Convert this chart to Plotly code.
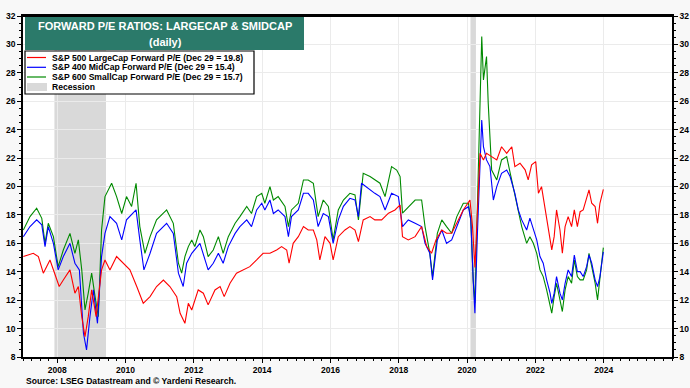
import plotly.graph_objects as go

# ---------------- data (decimal years, forward P/E) ----------------
RED_X = [2007.01, 2007.30, 2007.45, 2007.595, 2007.79, 2007.89, 2008.06, 2008.18, 2008.375, 2008.52,
         2008.62, 2008.72, 2008.815, 2008.91, 2009.01, 2009.14, 2009.30, 2009.40, 2009.545, 2009.74,
         2009.94, 2010.13, 2010.33, 2010.52, 2010.72, 2010.91, 2011.11, 2011.30, 2011.50, 2011.60,
         2011.74, 2011.84, 2011.94, 2012.13, 2012.28, 2012.42, 2012.62, 2012.77, 2012.89, 2013.06,
         2013.25, 2013.45, 2013.64, 2013.84, 2014.03, 2014.23, 2014.425, 2014.57, 2014.72, 2014.79,
         2014.91, 2015.06, 2015.21, 2015.35, 2015.50, 2015.60, 2015.69, 2015.84, 2015.99, 2016.08,
         2016.23, 2016.425, 2016.57, 2016.72, 2016.82, 2016.96, 2017.16, 2017.30, 2017.50, 2017.70,
         2017.89, 2018.04, 2018.11, 2018.28, 2018.48, 2018.67, 2018.82, 2018.96, 2019.09, 2019.26,
         2019.40, 2019.55, 2019.70, 2019.89, 2020.085, 2020.16, 2020.23, 2020.30, 2020.38, 2020.48,
         2020.57, 2020.72, 2020.87, 2021.01, 2021.16, 2021.31, 2021.40, 2021.55, 2021.70, 2021.79,
         2021.89, 2022.01, 2022.09, 2022.18, 2022.28, 2022.38, 2022.48, 2022.55, 2022.62, 2022.72,
         2022.79, 2022.87, 2022.96, 2023.06, 2023.14, 2023.23, 2023.31, 2023.40, 2023.50, 2023.57,
         2023.65, 2023.75, 2023.82, 2023.89, 2023.99]
RED_Y = [15.07, 15.3, 15.07, 13.9, 14.83, 14.13, 12.96, 13.42, 14.13, 12.49,
         12.96, 10.84, 9.44, 10.84, 12.72, 10.84, 14.13, 14.83, 14.13, 15.07,
         14.6, 14.13, 12.96, 11.78, 12.25, 12.96, 13.42, 12.96, 12.25, 11.08,
         10.37, 11.78, 11.31, 12.72, 12.49, 11.67, 12.72, 12.96, 12.25, 13.19,
         13.9, 14.13, 14.36, 14.83, 15.3, 15.3, 15.53, 15.77, 15.53, 14.6,
         16.0, 16.47, 17.18, 16.94, 16.94, 16.24, 14.83, 16.47, 16.0, 14.83,
         16.47, 16.94, 17.18, 16.94, 16.12, 17.65, 17.88, 17.65, 17.65, 18.12,
         18.35, 18.7, 16.47, 16.24, 16.47, 17.18, 15.77, 15.3, 16.24, 16.94,
         16.71, 16.71, 17.41, 18.35, 19.05, 17.18, 14.3, 18.58, 22.34, 21.87,
         22.34, 22.1, 21.87, 22.8, 22.34, 22.8, 21.4, 21.64, 21.17, 20.46,
         21.52, 21.75, 19.52, 19.99, 18.59, 16.94, 15.54, 16.47, 18.35, 16.94,
         15.3, 17.18, 17.88, 17.18, 18.35, 17.18, 18.23, 18.35, 19.29, 19.76,
         18.82, 18.59, 17.41, 18.82, 19.8]

BLUE_X = [2007.01, 2007.205, 2007.40, 2007.55, 2007.645, 2007.74, 2007.89, 2008.03, 2008.18, 2008.375,
          2008.52, 2008.65, 2008.77, 2008.86, 2008.96, 2009.06, 2009.18, 2009.30, 2009.40, 2009.545,
          2009.74, 2009.89, 2010.03, 2010.31, 2010.42, 2010.54, 2010.72, 2010.91, 2011.205, 2011.40,
          2011.55, 2011.69, 2011.79, 2011.84, 2011.94, 2012.18, 2012.42, 2012.57, 2012.72, 2012.86,
          2013.01, 2013.21, 2013.35, 2013.55, 2013.69, 2013.84, 2013.99, 2014.08, 2014.23, 2014.33,
          2014.47, 2014.67, 2014.77, 2014.86, 2015.06, 2015.21, 2015.35, 2015.50, 2015.64, 2015.79,
          2015.94, 2016.08, 2016.23, 2016.38, 2016.57, 2016.72, 2016.82, 2016.91, 2017.16, 2017.30,
          2017.45, 2017.60, 2017.79, 2017.99, 2018.11, 2018.28, 2018.48, 2018.67, 2018.77, 2018.91,
          2018.99, 2019.13, 2019.26, 2019.40, 2019.55, 2019.70, 2019.89, 2020.04, 2020.11, 2020.18,
          2020.23, 2020.30, 2020.38, 2020.43, 2020.48, 2020.57, 2020.67, 2020.77, 2020.87, 2021.01,
          2021.16, 2021.26, 2021.40, 2021.50, 2021.60, 2021.745, 2021.84, 2021.94, 2022.04, 2022.135,
          2022.23, 2022.33, 2022.43, 2022.48, 2022.55, 2022.62, 2022.72, 2022.79, 2022.87, 2022.96,
          2023.06, 2023.14, 2023.23, 2023.31, 2023.40, 2023.50, 2023.57, 2023.65, 2023.75, 2023.82,
          2023.89, 2023.99]
BLUE_Y = [16.47, 17.18, 17.65, 17.3, 15.77, 17.18, 16.0, 14.13, 15.07, 16.0,
          14.6, 14.13, 9.67, 8.5, 10.84, 12.72, 10.37, 15.07, 16.7, 17.88,
          17.41, 16.24, 17.65, 18.35, 16.24, 14.13, 15.3, 16.7, 17.41, 16.7,
          13.9, 12.96, 14.6, 14.83, 15.3, 16.0, 14.13, 14.6, 15.3, 14.6,
          15.77, 16.7, 17.18, 17.65, 17.18, 18.35, 18.82, 18.35, 19.05, 18.1,
          18.35, 17.88, 16.47, 17.88, 18.35, 19.52, 19.52, 19.05, 17.18, 18.1,
          17.88, 16.0, 17.65, 18.6, 19.17, 19.05, 17.88, 20.23, 19.76, 19.52,
          19.29, 18.35, 19.52, 19.29, 17.18, 17.65, 17.41, 17.18, 16.0, 15.3,
          13.42, 16.24, 16.94, 16.0, 16.24, 17.18, 18.35, 18.58, 17.65, 13.42,
          11.08, 16.47, 21.87, 24.68, 22.8, 21.87, 21.4, 19.05, 19.99, 20.93,
          21.16, 20.7, 19.52, 18.35, 17.65, 16.94, 17.77, 16.94, 16.24, 15.07,
          14.6, 13.43, 12.49, 11.78, 12.49, 13.66, 12.49, 12.02, 13.19, 14.13,
          13.66, 15.18, 14.01, 14.01, 13.66, 14.36, 15.18, 14.6, 13.43, 12.96,
          13.66, 15.4]

GREEN_X = [2007.01, 2007.205, 2007.40, 2007.55, 2007.645, 2007.74, 2007.89, 2008.03, 2008.18, 2008.375,
           2008.52, 2008.62, 2008.72, 2008.815, 2008.91, 2009.01, 2009.11, 2009.205, 2009.30, 2009.40,
           2009.595, 2009.74, 2009.89, 2010.03, 2010.18, 2010.31, 2010.42, 2010.57, 2010.72, 2010.91,
           2011.205, 2011.40, 2011.55, 2011.645, 2011.74, 2011.84, 2011.94, 2012.03, 2012.18, 2012.28,
           2012.42, 2012.57, 2012.72, 2012.86, 2013.01, 2013.21, 2013.35, 2013.55, 2013.69, 2013.84,
           2013.99, 2014.08, 2014.23, 2014.33, 2014.47, 2014.67, 2014.77, 2014.86, 2015.06, 2015.21,
           2015.35, 2015.50, 2015.64, 2015.79, 2015.94, 2016.08, 2016.23, 2016.38, 2016.57, 2016.72,
           2016.82, 2016.96, 2017.16, 2017.30, 2017.45, 2017.60, 2017.79, 2017.94, 2018.04, 2018.11,
           2018.28, 2018.48, 2018.67, 2018.77, 2018.91, 2018.99, 2019.13, 2019.26, 2019.40, 2019.55,
           2019.70, 2019.89, 2020.04, 2020.11, 2020.18, 2020.23, 2020.28, 2020.35, 2020.43, 2020.48,
           2020.53, 2020.57, 2020.62, 2020.67, 2020.72, 2020.87, 2021.01, 2021.16, 2021.26, 2021.40,
           2021.50, 2021.60, 2021.745, 2021.84, 2021.94, 2022.04, 2022.135, 2022.23, 2022.33, 2022.43,
           2022.48, 2022.55, 2022.62, 2022.72, 2022.79, 2022.87, 2022.96, 2023.06, 2023.14, 2023.23,
           2023.31, 2023.40, 2023.50, 2023.57, 2023.65, 2023.75, 2023.82, 2023.89, 2023.99]
GREEN_Y = [16.94, 17.88, 18.47, 17.76, 16.0, 17.41, 16.47, 14.36, 15.53, 16.7,
           15.3, 16.24, 14.13, 11.31, 12.5, 13.9, 12.25, 10.84, 16.94, 19.29,
           20.23, 19.29, 18.1, 19.29, 18.6, 20.23, 17.18, 15.3, 16.47, 17.65,
           18.35, 17.41, 14.6, 13.9, 15.07, 15.77, 16.24, 15.77, 16.94, 16.47,
           15.07, 15.53, 16.47, 15.3, 16.47, 17.41, 17.88, 18.6, 18.1, 19.29,
           19.52, 18.82, 19.99, 19.05, 19.29, 18.6, 17.18, 18.35, 18.82, 20.46,
           20.46, 20.23, 17.88, 19.05, 18.6, 16.24, 18.35, 19.05, 19.52, 19.4,
           17.65, 20.93, 20.7, 20.46, 20.23, 19.29, 21.4, 21.16, 20.7, 18.12,
           18.58, 19.05, 19.05, 17.18, 15.3, 13.66, 16.71, 17.65, 17.18, 16.71,
           17.88, 18.82, 18.82, 17.65, 13.42, 11.78, 16.47, 22.8, 30.55, 27.5,
           28.67, 29.14, 25.85, 23.51, 21.16, 20.46, 21.87, 22.1, 20.93, 19.29,
           18.12, 17.18, 16.0, 16.47, 16.0, 15.3, 14.13, 13.66, 12.72, 11.55,
           11.08, 12.25, 13.19, 12.02, 11.2, 12.72, 13.66, 13.19, 14.83, 13.66,
           13.43, 13.43, 14.13, 15.3, 14.36, 13.19, 12.02, 13.43, 15.7]

RECESSION_START = [2007.92, 2020.10]
RECESSION_END = [2009.43, 2020.26]

SERIES_NAMES = ["S&P 500 LargeCap Forward P/E (Dec 29 = 19.8)",
                "S&P 400 MidCap Forward P/E (Dec 29 = 15.4)",
                "S&P 600 SmallCap Forward P/E (Dec 29 = 15.7)",
                "Recession"]
TITLE_LINES = ["FORWARD P/E RATIOS: LARGECAP & SMIDCAP", "(daily)"]
SOURCE = "Source: LSEG Datastream and © Yardeni Research."
X_TICKS = [2008, 2010, 2012, 2014, 2016, 2018, 2020, 2022, 2024]
Y_TICKS = [8, 10, 12, 14, 16, 18, 20, 22, 24, 26, 28, 30, 32]

# ---------------- styling ----------------
W, H = 690, 388
L, R, T, B = 23, 18, 16, 31
PW, PH = W - L - R, H - T - B
RED, BLUE, GREEN = "#ff0000", "#0000ff", "#008a00"
SHADE = "#d9d9d9"
TEAL = "#2b7a6a"
FONT = "Liberation Sans, Arial, sans-serif"


def px(xp):
    return (xp - L) / PW


def py(yp):
    return (H - B - yp) / PH


fig = go.Figure()
fig.add_trace(go.Scatter(x=GREEN_X, y=GREEN_Y, mode="lines", line=dict(color=GREEN, width=1.1),
                         name=SERIES_NAMES[2], showlegend=False, hoverinfo="skip"))
fig.add_trace(go.Scatter(x=BLUE_X, y=BLUE_Y, mode="lines", line=dict(color=BLUE, width=1.1),
                         name=SERIES_NAMES[1], showlegend=False, hoverinfo="skip"))
fig.add_trace(go.Scatter(x=RED_X, y=RED_Y, mode="lines", line=dict(color=RED, width=1.1),
                         name=SERIES_NAMES[0], showlegend=False, hoverinfo="skip", yaxis="y2"))

shapes = []
for s, e in zip(RECESSION_START, RECESSION_END):
    shapes.append(dict(type="rect", xref="x", yref="paper", x0=s, x1=e, y0=0, y1=1,
                       fillcolor=SHADE, line=dict(width=0), layer="below"))

# title box
shapes.append(dict(type="rect", xref="paper", yref="paper", x0=px(25), x1=px(304), y0=py(50), y1=py(17),
                   fillcolor=TEAL, line=dict(width=0), layer="above"))
# legend box
shapes.append(dict(type="rect", xref="paper", yref="paper", x0=px(25), x1=px(254), y0=py(94), y1=py(51),
                   fillcolor="white", line=dict(color="black", width=1.2), layer="above"))
legend_y = [57.5, 67.3, 77.0]
for yy, c in zip(legend_y, [RED, BLUE, GREEN]):
    shapes.append(dict(type="line", xref="paper", yref="paper", x0=px(27), x1=px(46), y0=py(yy), y1=py(yy),
                       line=dict(color=c, width=1.2), layer="above"))
shapes.append(dict(type="rect", xref="paper", yref="paper", x0=px(27), x1=px(47), y0=py(91), y1=py(83),
                   fillcolor=SHADE, line=dict(width=0), layer="above"))
# thicker top frame line
shapes.append(dict(type="line", xref="paper", yref="paper", x0=0, x1=1, y0=1, y1=1,
                   line=dict(color="black", width=2), layer="above"))

annotations = []
annotations.append(dict(text="<b>%s</b>" % TITLE_LINES[0], xref="paper", yref="paper", x=px(165), y=py(26),
                        xanchor="center", yanchor="middle", showarrow=False,
                        font=dict(family=FONT, size=11, color="white")))
annotations.append(dict(text="<b>%s</b>" % TITLE_LINES[1], xref="paper", yref="paper", x=px(165), y=py(42),
                        xanchor="center", yanchor="middle", showarrow=False,
                        font=dict(family=FONT, size=11, color="white")))
for yy, name in zip(legend_y + [87.0], SERIES_NAMES):
    annotations.append(dict(text="<b>%s</b>" % name, xref="paper", yref="paper", x=px(50), y=py(yy),
                            xanchor="left", yanchor="middle", showarrow=False,
                            font=dict(family=FONT, size=8.6, color="black")))
annotations.append(dict(text="<b>%s</b>" % SOURCE, xref="paper", yref="paper", x=px(24), y=py(381),
                        xanchor="left", yanchor="middle", showarrow=False,
                        font=dict(family=FONT, size=8.6, color="black")))

tickfont = dict(family=FONT, size=8.5, color="black", weight="bold")
yaxis_common = dict(range=[8, 32], tickvals=Y_TICKS, ticks="outside", ticklen=4, tickwidth=1,
                    tickcolor="black", showline=True, linecolor="black", linewidth=1.5,
                    tickfont=tickfont, zeroline=False,
                    minor=dict(dtick=0.5, ticks="outside", ticklen=2, tickcolor="black", showgrid=False))

fig.update_layout(
    width=W, height=H,
    margin=dict(l=L, r=R, t=T, b=B, autoexpand=False),
    paper_bgcolor="#f8f8f8", plot_bgcolor="white",
    showlegend=False,
    xaxis=dict(range=[2007.0, 2026.0], tickvals=X_TICKS, ticktext=[str(v) for v in X_TICKS],
               ticks="outside", ticklen=4, tickcolor="black", showline=True, linecolor="black",
               linewidth=1.5, mirror=True, showgrid=True, gridcolor="#ebebeb", gridwidth=1,
               tickfont=tickfont, zeroline=False,
               minor=dict(dtick=0.25, tick0=2007, ticks="outside", ticklen=2, tickcolor="black",
                          showgrid=False)),
    yaxis=dict(side="left", showgrid=True, gridcolor="#ebebeb", gridwidth=1, **yaxis_common),
    yaxis2=dict(side="right", overlaying="y", showgrid=False, **yaxis_common),
    shapes=shapes, annotations=annotations,
)

fig.write_html("out.html",
               config={"displayModeBar": False},
               post_script="document.body.style.margin='0';document.body.style.padding='0';"
                           "document.body.style.overflow='hidden';")
